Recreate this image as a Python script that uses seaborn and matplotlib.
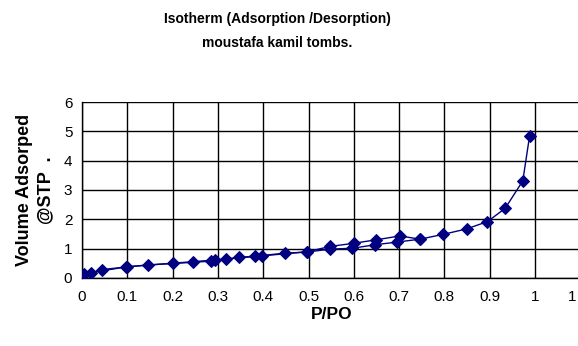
import matplotlib
matplotlib.use("Agg")
import matplotlib.pyplot as plt
import matplotlib.transforms as mtransforms
import seaborn as sns
import pandas as pd

# Adsorption branch (relative pressure, volume adsorbed)
ads_p = [0.0, 0.02, 0.043, 0.097, 0.145, 0.2, 0.245, 0.284, 0.318, 0.347, 0.382,
         0.447, 0.497, 0.547, 0.597, 0.647, 0.695, 0.746, 0.796, 0.849, 0.895,
         0.934, 0.973, 0.988]
ads_v = [0.05, 0.17, 0.28, 0.37, 0.44, 0.49, 0.53, 0.57, 0.64, 0.70, 0.74,
         0.84, 0.88, 0.98, 1.01, 1.13, 1.22, 1.32, 1.48, 1.67, 1.92,
         2.37, 3.31, 4.84]

# Desorption branch
des_p = [0.746, 0.702, 0.65, 0.60, 0.547, 0.497, 0.397, 0.294, 0.10, 0.005]
des_v = [1.32, 1.43, 1.30, 1.18, 1.07, 0.89, 0.75, 0.61, 0.38, 0.14]

x_ticks = [0, 0.1, 0.2, 0.3, 0.4, 0.5, 0.6, 0.7, 0.8, 0.9, 1.0, 1.1]
x_tick_labels = ["0", "0.1", "0.2", "0.3", "0.4", "0.5", "0.6", "0.7", "0.8", "0.9", "1", "1"]
y_ticks = [0, 1, 2, 3, 4, 5, 6]

sns.set_theme(style="white")
plt.rcParams["font.family"] = ["Liberation Sans", "DejaVu Sans"]
plt.rcParams["text.color"] = "black"

fig = plt.figure(figsize=(5.78, 3.46), dpi=100)
ax = fig.add_axes([0.142, 0.197, 0.862, 0.508])

navy = "#000080"
df_a = pd.DataFrame({"p": ads_p, "v": ads_v})
df_d = pd.DataFrame({"p": des_p, "v": des_v})
for df in (df_a, df_d):
    sns.lineplot(data=df, x="p", y="v", sort=False, ax=ax, color=navy,
                 linewidth=1.0, marker="D", markersize=6.5,
                 markeredgecolor=navy, markerfacecolor=navy, zorder=3)

ax.set_xlim(0, 1.1)
ax.set_ylim(0, 6)
ax.set_xticks(x_ticks)
labels = ax.set_xticklabels(x_tick_labels)
ax.set_yticks(y_ticks)
ax.grid(True, color="black", linewidth=1.0)
for side in ("top", "right"):
    ax.spines[side].set_visible(False)
for side in ("left", "bottom"):
    ax.spines[side].set_color("black")
    ax.spines[side].set_linewidth(1.0)
ax.tick_params(axis="both", which="major", direction="out", length=4,
               width=1, color="black", labelsize=11, labelcolor="black")
ax.tick_params(axis="x", pad=5)
ax.tick_params(axis="y", pad=3)

# keep the last tick label inside the figure edge
shift = mtransforms.ScaledTranslation(-8 / 100, 0, fig.dpi_scale_trans)
labels[-1].set_transform(labels[-1].get_transform() + shift)

ax.set_xlabel("P/PO", fontsize=12.5, fontweight="bold", labelpad=2,
              color="black")
ax.set_ylabel("Volume Adsorped\n@STP  .", fontsize=13, fontweight="bold",
              labelpad=7, linespacing=1.3, color="black")

fig.text(0.48, 0.945, "Isotherm (Adsorption /Desorption)", ha="center",
         va="center", fontsize=10, fontweight="bold", color="black")
fig.text(0.48, 0.875, "moustafa kamil tombs.", ha="center", va="center",
         fontsize=10, fontweight="bold", color="black")

fig.savefig("out.png", dpi=100)
